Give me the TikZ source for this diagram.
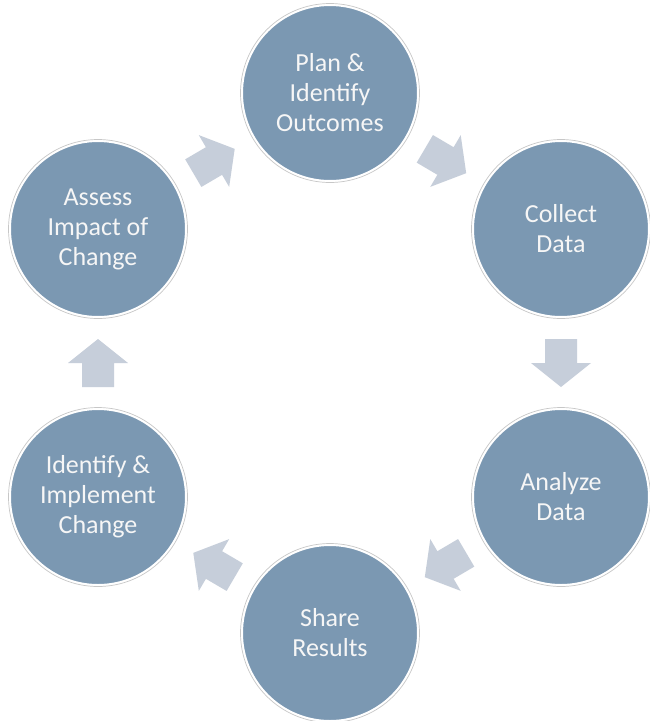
\documentclass[tikz,border=0pt]{standalone}
\usepackage{fontspec}
\setmainfont{Carlito}
\usetikzlibrary{calc}
\definecolor{stagefill}{RGB}{123,152,178}
\definecolor{arrowfill}{RGB}{198,206,218}
\definecolor{stagetext}{RGB}{246,246,246}
\tikzset{
  stage/.style={circle, fill=stagefill, draw=white, line width=2pt,
    minimum size=176pt, inner sep=0pt, align=center, text=stagetext,
    font=\fontsize{26}{30}\selectfont},
  ring/.style={draw=black!22, line width=0.7pt},
  blockfill/.style={fill=arrowfill}
}
\newcommand\blockarrow[2]{%
  \coordinate (m) at ($(#1.center)!0.5!(#2.center)$);
  \coordinate (t) at ($(m)!-24pt!(#2.center)$);
  \fill[blockfill] ($(m)!24pt!(#2.center)$)
    -- ($(m)!30pt!90:(#2.center)$)
    -- ($(m)!16pt!90:(#2.center)$)
    -- ($(t)!16pt!90:(#2.center)$)
    -- ($(t)!16pt!-90:(#2.center)$)
    -- ($(m)!16pt!-90:(#2.center)$)
    -- ($(m)!30pt!-90:(#2.center)$)
    -- cycle;}
\begin{document}
\begin{tikzpicture}[x=1pt,y=-1pt]
\useasboundingbox (0,0) rectangle (649,721);
\fill[white] (0,0) rectangle (649,721);
\node[stage] (plan) at (330,93) {Plan \&\\Identify\\Outcomes};
\node[stage] (collect) at (561,229) {Collect\\Data};
\node[stage] (analyze) at (561,497) {Analyze\\Data};
\node[stage] (share) at (330,633) {Share\\Results};
\node[stage] (impl) at (98,497) {Identify \&\\Implement\\Change};
\node[stage] (assess) at (98,229) {Assess\\Impact of\\Change};
\foreach \n in {plan,collect,analyze,share,impl,assess}
  \draw[ring] (\n.center) circle (89.5pt);
\blockarrow{plan}{collect}
\blockarrow{collect}{analyze}
\blockarrow{analyze}{share}
\blockarrow{share}{impl}
\blockarrow{impl}{assess}
\blockarrow{assess}{plan}
\end{tikzpicture}
\end{document}
